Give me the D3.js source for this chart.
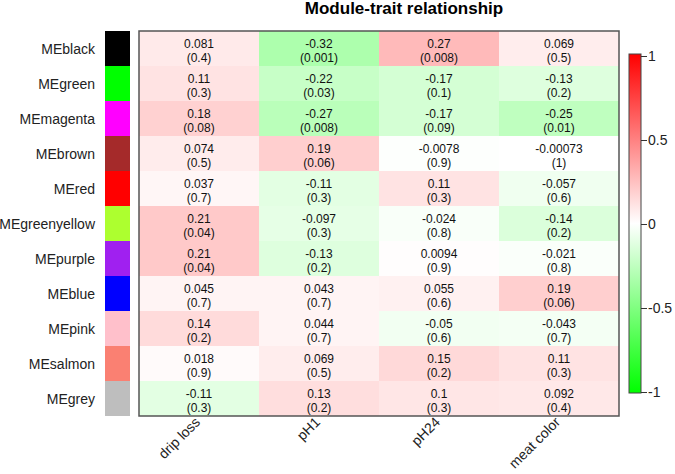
<!DOCTYPE html>
<html>
<head>
<meta charset="utf-8">
<script src="https://cdn.jsdelivr.net/npm/d3@7"></script>
<style>
  body { margin: 0; background: #fff; }
  svg { display: block; font-family: "Liberation Sans", Arial, sans-serif; }
</style>
</head>
<body>
<svg id="chart" width="675" height="474"></svg>
<script>
// ---- data ----
const modules = ["MEblack","MEgreen","MEmagenta","MEbrown","MEred","MEgreenyellow","MEpurple","MEblue","MEpink","MEsalmon","MEgrey"];
const moduleColors = ["#000000","#00FF00","#FF00FF","#A52A2A","#FF0000","#ADFF2F","#A020F0","#0000FF","#FFC0CB","#FA8072","#BEBEBE"];
const traits = ["drip loss","pH1","pH24","meat color"];
// correlations per trait (rows in module order)
const corDripLoss  = [0.081, 0.11, 0.18, 0.074, 0.037, 0.21, 0.21, 0.045, 0.14, 0.018, -0.11];
const corPH1       = [-0.32, -0.22, -0.27, 0.19, -0.11, -0.097, -0.13, 0.043, 0.044, 0.069, 0.13];
const corPH24      = [0.27, -0.17, -0.17, -0.0078, 0.11, -0.024, 0.0094, 0.055, -0.05, 0.15, 0.1];
const corMeatColor = [0.069, -0.13, -0.25, -0.00073, -0.057, -0.14, -0.021, 0.19, -0.043, 0.11, 0.092];
// p-values per trait
const pDripLoss  = ["0.4","0.3","0.08","0.5","0.7","0.04","0.04","0.7","0.2","0.9","0.3"];
const pPH1       = ["0.001","0.03","0.008","0.06","0.3","0.3","0.2","0.7","0.7","0.5","0.2"];
const pPH24      = ["0.008","0.1","0.09","0.9","0.3","0.8","0.9","0.6","0.6","0.2","0.3"];
const pMeatColor = ["0.5","0.2","0.01","1","0.6","0.2","0.8","0.06","0.7","0.3","0.4"];
const legendTicks = [-1, -0.5, 0, 0.5, 1];
const title = "Module-trait relationship";

const corByTrait = [corDripLoss, corPH1, corPH24, corMeatColor];
const pByTrait = [pDripLoss, pPH1, pPH24, pMeatColor];

const cells = [];
traits.forEach((t, j) => {
  modules.forEach((m, i) => {
    cells.push({ trait: t, module: m, cor: corByTrait[j][i], p: pByTrait[j][i] });
  });
});

// ---- layout ----
const svg = d3.select("#chart");
const x = d3.scaleBand().domain(traits).range([139, 619]);
const y = d3.scaleBand().domain(modules).range([31, 416]);
const color = d3.scaleLinear().domain([-1, 0, 1]).range(["#00FF00", "#FFFFFF", "#FF0000"]);

// title
svg.append("text")
  .attr("x", 404).attr("y", 14)
  .attr("text-anchor", "middle")
  .attr("font-weight", "bold")
  .attr("font-size", 17)
  .text(title);

// heatmap cells
svg.append("g").selectAll("rect").data(cells).join("rect")
  .attr("x", d => x(d.trait))
  .attr("y", d => y(d.module))
  .attr("width", x.bandwidth())
  .attr("height", y.bandwidth())
  .attr("fill", d => color(d.cor));

// cell text
const tg = svg.append("g").attr("font-size", 12).attr("fill", "#111").attr("text-anchor", "middle");
tg.selectAll("text.c").data(cells).join("text")
  .attr("class", "c")
  .attr("x", d => x(d.trait) + x.bandwidth() / 2)
  .attr("y", d => y(d.module) + 16.5)
  .text(d => String(d.cor));
tg.selectAll("text.p").data(cells).join("text")
  .attr("class", "p")
  .attr("x", d => x(d.trait) + x.bandwidth() / 2)
  .attr("y", d => y(d.module) + 30.5)
  .text(d => "(" + d.p + ")");

// frame
svg.append("rect")
  .attr("x", x.range()[0]).attr("y", y.range()[0])
  .attr("width", x.range()[1] - x.range()[0])
  .attr("height", y.range()[1] - y.range()[0])
  .attr("fill", "none").attr("stroke", "#555").attr("stroke-width", 1.5);

// module color swatches
svg.append("g").selectAll("rect").data(modules).join("rect")
  .attr("x", 105).attr("width", 25)
  .attr("y", d => y(d)).attr("height", y.bandwidth())
  .attr("fill", (d, i) => moduleColors[i]);

// row labels
svg.append("g").attr("font-size", 14).attr("fill", "#222").attr("text-anchor", "end")
  .selectAll("text").data(modules).join("text")
  .attr("x", 95)
  .attr("y", d => y(d) + y.bandwidth() / 2 + 5)
  .text(d => d);

// x labels
svg.append("g").attr("font-size", 14).attr("fill", "#222").attr("text-anchor", "end")
  .selectAll("text").data(traits).join("text")
  .attr("transform", d => `translate(${x(d) + x.bandwidth() / 2 + 2},${423}) rotate(-45)`)
  .text(d => d);

// legend
const ly = d3.scaleLinear().domain([-1, 1]).range([392, 56]);
const defs = svg.append("defs");
const grad = defs.append("linearGradient").attr("id", "lg")
  .attr("x1", 0).attr("y1", 1).attr("x2", 0).attr("y2", 0);
[-1, 0, 1].forEach(v => {
  grad.append("stop").attr("offset", (v + 1) / 2).attr("stop-color", color(v));
});
svg.append("rect")
  .attr("x", 629).attr("y", 54).attr("width", 12).attr("height", 339)
  .attr("fill", "url(#lg)").attr("stroke", "#444").attr("stroke-width", 1);

const axis = d3.axisRight(ly).tickValues(legendTicks).tickSize(6).tickPadding(1)
  .tickFormat(d => String(d));
const ag = svg.append("g").attr("transform", "translate(641,0)").call(axis);
ag.select(".domain").remove();
ag.selectAll("line").attr("stroke", "#333");
ag.selectAll("text").attr("font-size", 14).attr("fill", "#222")
  .attr("font-family", "Liberation Sans, Arial, sans-serif");
</script>
</body>
</html>
